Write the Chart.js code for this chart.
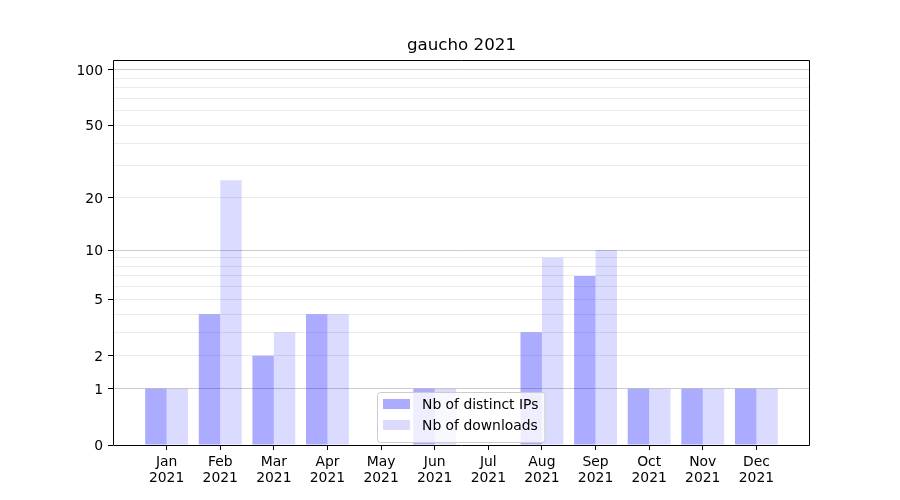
<!DOCTYPE html>
<html>
<head>
<meta charset="utf-8">
<script src="https://cdn.jsdelivr.net/npm/chart.js@4"></script>
<style>
  body { margin: 0; background: #fff; }
  #wrap { width: 900px; height: 500px; }
</style>
</head>
<body>
<div id="wrap"><canvas id="chart1" width="900" height="500"></canvas></div>
<script>
'use strict'

const months = ['Jan', 'Feb', 'Mar', 'Apr', 'May', 'Jun', 'Jul', 'Aug', 'Sep', 'Oct', 'Nov', 'Dec'];
const year = '2021';
const distinctIps = [1, 4, 2, 4, 0, 1, 0, 3, 7, 1, 1, 1];
const downloads = [1, 25, 3, 4, 0, 1, 0, 9, 10, 1, 1, 1];
const yTicks = [0, 1, 2, 5, 10, 20, 50, 100];
const yMinor = [3, 4, 6, 7, 8, 9, 30, 40, 60, 70, 80, 90];
const yDecades = [1, 10, 100];

const FONT = 'DejaVu Sans';

// y axis spaced like log10(1 + v)
class Log1pScale extends Chart.Scale {
    static id = 'log1p';
    static defaults = {};

    parse(raw) {
        return raw === null || raw === undefined ? null : +raw;
    }
    determineDataLimits() {
        const {min, max} = this.getMinMax(true);
        this.min = Number.isFinite(min) ? Math.max(0, min) : 0;
        this.max = Number.isFinite(max) ? max : 1;
    }
    buildTicks() {
        return yTicks.concat(yMinor)
            .filter(v => v >= this.min && v <= this.max)
            .sort((a, b) => a - b)
            .map(v => ({value: v}));
    }
    configure() {
        super.configure();
        this._start = Math.log10(1 + this.min);
        this._range = Math.log10(1 + this.max) - this._start;
    }
    getLabelForValue(value) {
        return String(value);
    }
    getPixelForValue(value) {
        if (value === null || value === undefined || isNaN(value)) return NaN;
        return this.getPixelForDecimal((Math.log10(1 + Math.max(0, value)) - this._start) / this._range);
    }
    getValueForPixel(pixel) {
        return Math.pow(10, this._start + this.getDecimalForPixel(pixel) * this._range) - 1;
    }
}
Chart.register(Log1pScale);

const framePlugin = {
    id: 'frame',
    afterLayout(chart) {
        // centre the title over the axes, not the whole canvas
        const t = chart.titleBlock;
        if (t) {
            t.left = chart.chartArea.left;
            t.right = chart.chartArea.right;
            t.width = t.right - t.left;
        }
    },
    afterDraw(chart) {
        const {ctx, chartArea: a} = chart;
        const l = Math.round(a.left) + 0.5, r = Math.round(a.right) - 0.5;
        const t = Math.round(a.top) + 0.5, b = Math.round(a.bottom) + 0.5;
        ctx.save();
        ctx.strokeStyle = '#000';
        ctx.lineWidth = 1;
        ctx.beginPath();
        ctx.moveTo(l, t); ctx.lineTo(r, t); ctx.lineTo(r, b); ctx.lineTo(l, b); ctx.closePath();
        ctx.stroke();
        ctx.restore();

        // legend, lower centre inside the axes
        const sets = chart.data.datasets;
        ctx.save();
        ctx.font = '13.9px "' + FONT + '"';
        const textW = Math.max(...sets.map(d => ctx.measureText(d.label).width));
        const rowH = 21;
        const boxW = 6 + 27 + 12 + textW + 6;
        const boxH = 50;
        const x0 = Math.round((a.left + a.right) / 2 - boxW / 2) - 1;
        const y0 = Math.round(a.bottom) - 3 - boxH;
        ctx.beginPath();
        ctx.roundRect(x0 + 0.5, y0 + 0.5, boxW, boxH, 3);
        ctx.fillStyle = 'rgba(255,255,255,0.8)';
        ctx.fill();
        ctx.strokeStyle = '#cccccc';
        ctx.stroke();
        ctx.textBaseline = 'middle';
        sets.forEach((d, i) => {
            const cy = y0 + 12 + rowH * i;
            ctx.fillStyle = '#fff';
            ctx.fillRect(x0 + 6, cy - 5, 27, 10);
            ctx.fillStyle = d.backgroundColor;
            ctx.fillRect(x0 + 6, cy - 5, 27, 10);
            ctx.fillStyle = '#000';
            ctx.fillText(d.label, x0 + 6 + 27 + 12, cy + 1);
        });
        ctx.restore();
    }
};

const ctx = document.getElementById('chart1').getContext('2d');
const myChart = new Chart(ctx, {
    type: 'bar',
    data: {
        datasets: [{
            label: 'Nb of distinct IPs',
            data: distinctIps.map((v, i) => ({x: i, y: v})),
            backgroundColor: 'rgba(0, 0, 255, 0.33)',
            borderWidth: 0
        }, {
            label: 'Nb of downloads',
            data: downloads.map((v, i) => ({x: i, y: v})),
            backgroundColor: 'rgba(0, 0, 255, 0.14)',
            borderWidth: 0
        }]
    },
    options: {
        responsive: false,
        animation: false,
        categoryPercentage: 0.8,
        barPercentage: 1,
        layout: { padding: { left: 0, right: 90, top: 0, bottom: 0 } },
        plugins: {
            legend: { display: false },
            tooltip: { enabled: false },
            title: {
                display: true,
                text: 'gaucho 2021',
                color: '#000',
                font: { family: FONT, size: 16.7, weight: 'normal', lineHeight: 1.2 },
                padding: { top: 36, bottom: 3.96 }
            }
        },
        scales: {
            x: {
                type: 'linear',
                min: -1,
                max: 12,
                offset: false,
                grid: {
                    offset: false,
                    drawOnChartArea: false,
                    drawTicks: true,
                    tickLength: 5,
                    tickColor: c => (c.tick && c.tick.value >= 0 && c.tick.value < months.length) ? '#000' : 'rgba(0,0,0,0)'
                },
                border: { display: false },
                ticks: {
                    stepSize: 1,
                    autoSkip: false,
                    maxRotation: 0,
                    padding: 4,
                    color: '#000',
                    font: { family: FONT, size: 13.9, lineHeight: 1.17 },
                    callback: v => (v >= 0 && v < months.length) ? [months[v], year] : ''
                },
                afterFit: s => { s.height = 55; }
            },
            y: {
                type: 'log1p',
                min: 0,
                max: 113,
                z: 1,
                grid: {
                    drawTicks: true,
                    tickLength: 5,
                    color: c => {
                        const v = c.tick && c.tick.value;
                        if (v === 0) return 'rgba(0,0,0,0)';
                        return yDecades.includes(v) ? '#cccccc' : '#ebebeb';
                    },
                    tickColor: c => (c.tick && yTicks.includes(c.tick.value)) ? '#000' : 'rgba(0,0,0,0)'
                },
                border: { display: false },
                ticks: {
                    autoSkip: false,
                    padding: 5,
                    labelOffset: 1.5,
                    color: '#000',
                    font: { family: FONT, size: 13.9 },
                    callback: v => yTicks.includes(v) ? String(v) : ''
                },
                afterFit: s => { s.width = 113; }
            }
        }
    },
    plugins: [framePlugin]
});
</script>
</body>
</html>
